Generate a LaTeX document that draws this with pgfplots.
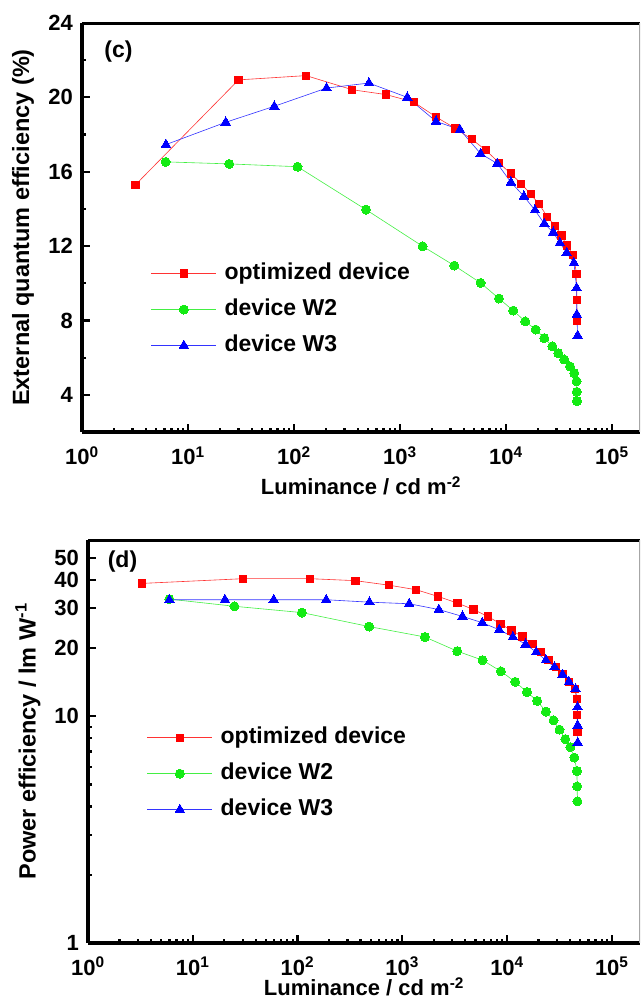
\documentclass[border=0pt]{standalone}
\usepackage{fontspec}
\setmainfont{Liberation Sans}
\usepackage{pgfplots}
\pgfplotsset{compat=1.18}

\definecolor{cred}{RGB}{255,0,0}
\definecolor{cgreen}{RGB}{20,235,20}
\definecolor{cblue}{RGB}{0,0,255}
\newcommand{\lbl}{\fontsize{22}{22}\selectfont\bfseries}
\newcommand{\lgd}{\fontsize{23}{23}\selectfont\bfseries}
\newcommand{\ylb}{\fontsize{23.5}{23.5}\selectfont\bfseries}

\pgfplotsset{
  sqs/.style={color=cred!80!white, line width=0.6pt, mark=square*, mark size=3.6pt, mark options={fill=cred, draw=cred, line width=0pt}},
  cis/.style={color=cgreen!80!white, line width=0.6pt, mark=*, mark size=4.5pt, mark options={fill=cgreen, draw=cgreen, line width=0pt}},
  trs/.style={color=cblue!80!white, line width=0.6pt, mark=triangle*, mark size=5.5pt, mark options={fill=cblue, draw=cblue, line width=0pt}},
}

\begin{document}
\begin{tikzpicture}
% ---------- (c) external quantum efficiency ----------
\begin{axis}[
  scale only axis,
  at={(82pt,570pt)}, anchor=south west,
  width=558pt, height=409pt,
  xmode=log,
  xmin=1, xmax=1.84e5, ymin=2, ymax=24,
  axis x line*=bottom, axis y line*=left,
  axis line style={line width=3.5pt, black},
  tick align=inside,
  major tick length=8pt, minor tick length=4pt,
  tick style={line width=2.2pt, black},
  xtick={1,10,100,1000,10000,100000},
  xticklabels={10\textsuperscript{0},10\textsuperscript{1},10\textsuperscript{2},10\textsuperscript{3},10\textsuperscript{4},10\textsuperscript{5}},
  minor xtick={2,3,4,5,6,7,8,9,20,30,40,50,60,70,80,90,200,300,400,500,600,700,800,900,2000,3000,4000,5000,6000,7000,8000,9000,20000,30000,40000,50000,60000,70000,80000,90000},
  ytick={4,8,12,16,20,24}, yticklabels={4,8,12,16,20,24},
  minor ytick={2,6,10,14,18,22},
  xticklabel style={font=\lbl, anchor=base, inner sep=0pt, yshift=-33pt},
  yticklabel style={font=\lbl, anchor=east, inner sep=0pt, xshift=-9pt},
  xlabel={Luminance / cd m\textsuperscript{-2}},
  xlabel style={font=\lbl, at={(axis description cs:0.5,-0.154)}, anchor=base},
  ylabel={External quantum efficiency (\%)},
  ylabel style={font=\ylb, at={(axis description cs:-0.1057,0.5)}, anchor=center},
  legend style={draw=none, fill=none, at={(0.1237,0.4156)}, anchor=north west,
    inner sep=0pt, outer sep=0pt, font=\lgd, row sep=13pt, column sep=7pt,
    nodes={inner sep=1pt, text height=16pt, text depth=5pt}},
  legend cell align=left,
  legend image code/.code={\draw[mark repeat=2,mark phase=2] plot coordinates {(0pt,0pt)(32.5pt,0pt)(65pt,0pt)};},
]
\addplot[sqs] coordinates {
 (3.2,15.3) (30,20.94) (130,21.17) (355,20.41) (738,20.15) (1346,19.75)
 (2188,18.95) (3327,18.33) (4780,17.74) (6472,17.15) (8650,16.47) (11070,15.90)
 (13960,15.36) (17100,14.79) (20620,14.25) (24550,13.57) (28990,13.10)
 (33500,12.57) (37400,12.03) (43100,11.54) (46400,10.5) (46600,9.11) (47000,7.96)};
\addlegendentry{optimized device}
\addplot[cis] coordinates {
 (6.16,16.53) (24.5,16.42) (108,16.27) (478,13.96) (1637,11.99) (3258,10.95)
 (5770,10.02) (8590,9.18) (11720,8.53) (15200,7.95) (19050,7.51) (23000,7.05)
 (27400,6.61) (31200,6.24) (35500,5.90) (40200,5.53) (44100,5.17) (46400,4.73)
 (46600,4.16) (46800,3.66)};
\addlegendentry{device W2}
\addplot[trs] coordinates {
 (6.2,17.46) (22.7,18.66) (65.2,19.52) (203,20.5) (510,20.77) (1172,20.0)
 (2188,18.71) (3680,18.26) (5770,16.97) (8280,16.44) (11150,15.43) (14780,14.68)
 (18780,13.93) (23010,13.21) (27900,12.74) (32300,12.17) (37400,11.64)
 (43800,11.1) (46400,9.75) (46600,8.32) (47500,7.19)};
\addlegendentry{device W3}
\draw[line width=3.5pt, black] (rel axis cs:0,1) -- (rel axis cs:1,1);
\draw[line width=1.5pt, gray!70] (rel axis cs:1,0) -- (rel axis cs:1,1);
\node[font=\lgd] at (rel axis cs:0.0654,0.930) {(c)};
\end{axis}

% ---------- (d) power efficiency ----------
\begin{axis}[
  scale only axis,
  at={(88pt,59pt)}, anchor=south west,
  width=552pt, height=403pt,
  xmode=log, ymode=log,
  xmin=1, xmax=1.86e5, ymin=1, ymax=60,
  axis x line*=bottom, axis y line*=left,
  axis line style={line width=3.5pt, black},
  tick align=inside,
  major tick length=8pt, minor tick length=4pt,
  tick style={line width=2.2pt, black},
  xtick={1,10,100,1000,10000,100000},
  xticklabels={10\textsuperscript{0},10\textsuperscript{1},10\textsuperscript{2},10\textsuperscript{3},10\textsuperscript{4},10\textsuperscript{5}},
  minor xtick={2,3,4,5,6,7,8,9,20,30,40,50,60,70,80,90,200,300,400,500,600,700,800,900,2000,3000,4000,5000,6000,7000,8000,9000,20000,30000,40000,50000,60000,70000,80000,90000},
  ytick={1,10,20,30,40,50}, yticklabels={1,10,20,30,40,50},
  minor ytick={2,3,4,5,6,7,8,9},
  xticklabel style={font=\lbl, anchor=base, inner sep=0pt, yshift=-32pt},
  yticklabel style={font=\lbl, anchor=east, inner sep=0pt, xshift=-9pt},
  xlabel={Luminance / cd m\textsuperscript{-2}},
  xlabel style={font=\lbl, at={(axis description cs:0.5,-0.1315)}, anchor=base},
  ylabel={Power efficiency / lm W\textsuperscript{-1}},
  ylabel style={font=\ylb, at={(axis description cs:-0.1087,0.5)}, anchor=center},
  legend style={draw=none, fill=none, at={(0.107,0.538)}, anchor=north west,
    inner sep=0pt, outer sep=0pt, font=\lgd, row sep=13pt, column sep=7pt,
    nodes={inner sep=1pt, text height=16pt, text depth=5pt}},
  legend cell align=left,
  legend image code/.code={\draw[mark repeat=2,mark phase=2] plot coordinates {(0pt,0pt)(32.5pt,0pt)(65pt,0pt)};},
]
\addplot[sqs] coordinates {
 (3.26,38.6) (30.4,40.5) (131,40.5) (357,39.7) (750,37.9) (1358,36.2)
 (2203,33.8) (3367,31.6) (4790,29.6) (6560,27.6) (8670,25.6) (11050,23.9)
 (14070,22.5) (17500,20.8) (21070,19.2) (24900,17.8) (29500,16.5) (33900,15.4)
 (39000,14.2) (44200,13.2) (46500,11.9) (46800,10.1) (47000,8.53)};
\addlegendentry{optimized device}
\addplot[cis] coordinates {
 (5.98,32.9) (25,30.6) (110,28.7) (483,24.9) (1644,22.4) (3345,19.4)
 (5840,17.7) (8750,15.8) (11970,14.2) (15500,12.8) (19400,11.7) (23500,10.5)
 (27800,9.6) (31700,8.74) (36000,7.94) (40200,7.32) (43900,6.58) (46500,5.74)
 (46700,4.91) (47000,4.22)};
\addlegendentry{device W2}
\addplot[trs] coordinates {
 (5.98,32.7) (20.3,32.7) (59.3,32.7) (188,32.7) (486,31.9) (1164,31.4)
 (2235,29.6) (3760,27.6) (5800,25.9) (8430,24.1) (11380,22.4) (15030,20.8)
 (19000,19.2) (23500,17.7) (28400,16.5) (33900,15.3) (39000,14.2) (45200,13.2)
 (47100,11.0) (47200,9.13) (47300,7.66)};
\addlegendentry{device W3}
\draw[line width=3.5pt, black] (rel axis cs:0,1) -- (rel axis cs:1,1);
\draw[line width=1.5pt, gray!70] (rel axis cs:1,0) -- (rel axis cs:1,1);
\node[font=\lgd] at (rel axis cs:0.0625,0.946) {(d)};
\end{axis}

\pgfresetboundingbox
\useasboundingbox (0,0) rectangle (641pt,1002pt);
\end{tikzpicture}
\end{document}
